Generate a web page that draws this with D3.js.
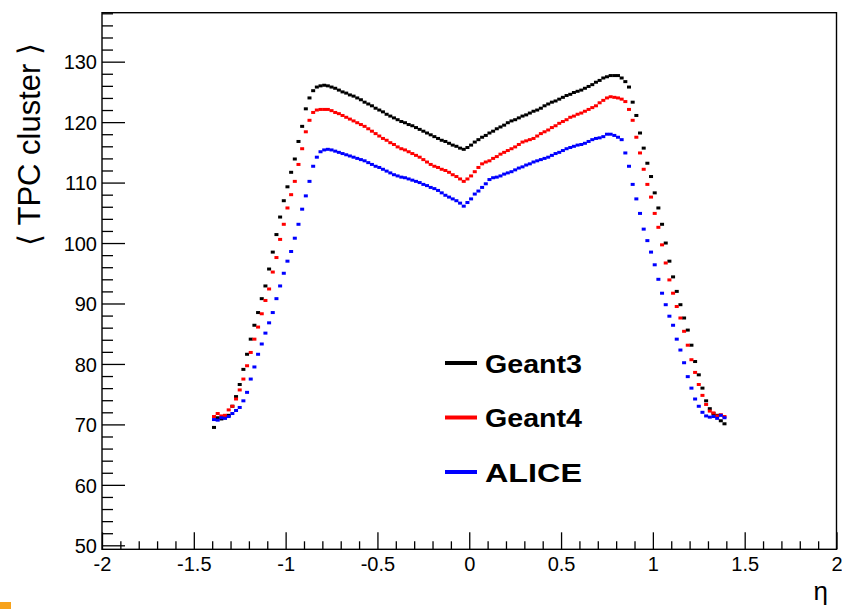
<!DOCTYPE html>
<html>
<head>
<meta charset="utf-8">
<script src="https://cdn.jsdelivr.net/npm/d3@7"></script>
<style>
  body { margin: 0; background: #fff; }
  svg { display: block; font-family: "Liberation Sans", Arial, sans-serif; }
</style>
</head>
<body>
<svg id="chart" width="842" height="609"></svg>
<script>
// histogram binning: 140 bins in eta from -1.4 to 1.4
const nBins = 140;
const etaLow = -1.4;
const etaHigh = 1.4;

// <TPC cluster> per eta bin
const geant3 = [
  69.5, 71.1, 70.9, 71.1, 71.5, 73.0, 74.6, 76.6, 79.1, 81.6,
  84.1, 86.4, 88.5, 90.8, 92.9, 95.7, 98.5, 101.4, 104.3, 107.0,
  109.3, 111.7, 113.9, 116.8, 119.3, 122.2, 124.0, 125.2, 125.8, 126.0,
  126.1, 126.0, 125.8, 125.6, 125.3, 125.0, 124.8, 124.5, 124.3, 124.0,
  123.7, 123.3, 123.0, 122.7, 122.3, 122.0, 121.7, 121.3, 121.0, 120.7,
  120.4, 120.1, 119.9, 119.6, 119.4, 119.1, 118.8, 118.5, 118.2, 117.9,
  117.6, 117.3, 117.0, 116.8, 116.5, 116.2, 116.0, 115.7, 115.5, 115.8,
  116.2, 116.7, 117.1, 117.5, 117.8, 118.2, 118.5, 118.9, 119.2, 119.5,
  119.9, 120.2, 120.4, 120.7, 121.0, 121.2, 121.5, 121.8, 122.0, 122.3,
  122.7, 123.0, 123.3, 123.5, 123.8, 124.1, 124.4, 124.6, 124.9, 125.1,
  125.3, 125.6, 125.9, 126.2, 126.6, 126.9, 127.3, 127.5, 127.7, 127.7,
  127.7, 127.3, 126.7, 125.8, 123.3, 121.1, 118.2, 115.7, 113.2, 111.0,
  108.3, 105.8, 103.1, 100.0, 97.0, 94.4, 92.0, 89.8, 87.6, 85.6,
  83.1, 80.4, 78.2, 76.0, 73.9, 72.6, 71.8, 71.5, 70.6, 70.1
];
const geant4 = [
  71.3, 71.8, 71.4, 71.5, 72.4, 73.0, 74.2, 75.7, 77.5, 79.7,
  81.9, 84.1, 86.1, 88.3, 90.5, 92.4, 95.2, 97.6, 100.6, 103.1,
  105.8, 108.0, 110.2, 113.0, 115.6, 118.4, 120.3, 121.6, 122.0, 122.1,
  122.1, 122.1, 121.9, 121.6, 121.4, 121.1, 120.8, 120.5, 120.2, 119.9,
  119.6, 119.3, 118.9, 118.5, 118.1, 117.7, 117.3, 117.0, 116.6, 116.3,
  115.9, 115.6, 115.4, 115.1, 114.8, 114.5, 114.2, 113.8, 113.4, 113.0,
  112.7, 112.5, 112.2, 112.0, 111.7, 111.3, 111.0, 110.6, 110.2, 110.6,
  111.1, 111.8, 112.5, 113.1, 113.4, 113.6, 114.0, 114.3, 114.7, 115.0,
  115.3, 115.6, 115.9, 116.3, 116.7, 116.9, 117.1, 117.3, 117.7, 118.1,
  118.4, 118.7, 119.1, 119.4, 119.8, 120.1, 120.4, 120.8, 121.0, 121.3,
  121.5, 121.8, 122.1, 122.4, 122.7, 123.2, 123.6, 124.0, 124.2, 124.1,
  124.0, 123.8, 123.4, 122.1, 120.3, 117.5, 114.9, 112.2, 109.7, 107.6,
  104.9, 102.6, 99.7, 96.7, 93.9, 91.7, 89.5, 87.6, 85.4, 83.1,
  80.7, 78.6, 76.6, 74.8, 73.3, 72.2, 71.9, 71.4, 71.6, 71.3
];
const alice = [
  70.8, 70.7, 71.1, 71.0, 71.3, 71.8, 72.3, 72.8, 73.9, 75.3,
  77.5, 79.5, 81.6, 83.3, 85.1, 86.8, 88.5, 90.8, 92.9, 95.0,
  97.0, 98.6, 100.8, 103.1, 105.6, 107.8, 110.2, 112.7, 114.2, 115.1,
  115.4, 115.5, 115.4, 115.2, 115.0, 114.8, 114.6, 114.4, 114.2, 114.0,
  113.8, 113.6, 113.3, 113.0, 112.7, 112.5, 112.2, 111.9, 111.6, 111.3,
  111.1, 110.9, 110.8, 110.6, 110.4, 110.2, 110.0, 109.7, 109.5, 109.2,
  109.0, 108.7, 108.3, 107.9, 107.6, 107.3, 107.0, 106.6, 106.1, 106.7,
  107.3, 108.1, 108.6, 109.2, 109.8, 110.5, 110.8, 110.9, 111.1, 111.4,
  111.6, 111.8, 112.1, 112.4, 112.6, 112.9, 113.1, 113.4, 113.6, 113.8,
  114.0, 114.2, 114.5, 114.8, 115.0, 115.3, 115.6, 115.8, 116.0, 116.2,
  116.3, 116.5, 116.8, 117.1, 117.3, 117.4, 117.6, 118.0, 118.0, 117.8,
  117.5, 117.1, 114.9, 112.7, 109.7, 107.3, 104.9, 102.3, 100.4, 98.5,
  96.4, 94.0, 91.7, 89.8, 87.9, 86.4, 84.1, 82.3, 80.2, 77.9,
  76.0, 74.2, 73.0, 72.0, 71.4, 71.2, 71.3, 71.0, 71.5, 71.1
];

const seriesNames = ["Geant3", "Geant4", "ALICE"];
const seriesColors = ["#000000", "#ff0000", "#0000ff"];

const xTicks = [-2, -1.5, -1, -0.5, 0, 0.5, 1, 1.5, 2];
const xTickLabels = ["-2", "-1.5", "-1", "-0.5", "0", "0.5", "1", "1.5", "2"];
const yTicks = [50, 60, 70, 80, 90, 100, 110, 120, 130];
const yTickLabels = ["50", "60", "70", "80", "90", "100", "110", "120", "130"];
const yRange = [49.34, 138.1];

const svg = d3.select('#chart');
const W = 842, H = 609;
const frame = { left: 102, right: 836.5, top: 12.7, bottom: 549.3 };

const x = d3.scaleLinear().domain([-2, 2]).range([frame.left, frame.right]);
const y = d3.scaleLinear().domain(yRange).range([frame.bottom, frame.top]);

svg.append('rect').attr('width', W).attr('height', H).attr('fill', '#fff');

// bin centers
const binWidth = (etaHigh - etaLow) / nBins;
const centers = d3.range(nBins).map(i => etaLow + (i + 0.5) * binWidth);

// x axis: major + minor ticks pointing inward
const xMinor = d3.range(-20, 21).map(i => i / 10).filter(v => !xTicks.some(t => Math.abs(t - v) < 1e-9));
svg.append('g')
  .attr('transform', `translate(0,${frame.bottom})`)
  .call(d3.axisBottom(x).tickValues(xMinor).tickSizeInner(-8).tickSizeOuter(0).tickFormat(''))
  .call(g => g.select('.domain').remove());
svg.append('g')
  .attr('class', 'xaxis')
  .attr('transform', `translate(0,${frame.bottom})`)
  .call(d3.axisBottom(x).tickValues(xTicks).tickSizeInner(-17).tickSizeOuter(0).tickPadding(8)
    .tickFormat((d, i) => xTickLabels[i]))
  .call(g => g.select('.domain').remove());

// y axis
const yMinor = d3.range(52, 139, 2).filter(v => v % 10 !== 0);
svg.append('g')
  .attr('transform', `translate(${frame.left},0)`)
  .call(d3.axisLeft(y).tickValues(yMinor).tickSizeInner(-11).tickSizeOuter(0).tickFormat(''))
  .call(g => g.select('.domain').remove());
svg.append('g')
  .attr('class', 'yaxis')
  .attr('transform', `translate(${frame.left},0)`)
  .call(d3.axisLeft(y).tickValues(yTicks).tickSizeInner(-23).tickSizeOuter(0).tickPadding(5)
    .tickFormat((d, i) => yTickLabels[i]))
  .call(g => g.select('.domain').remove());

svg.selectAll('.tick line').attr('stroke', '#000').attr('stroke-width', 1.3);
svg.selectAll('.tick text').attr('font-size', 20).attr('fill', '#000')
  .attr('font-family', '"Liberation Sans", Arial, sans-serif');
svg.selectAll('.yaxis .tick text').attr('dy', '0.36em');

// frame
svg.append('rect')
  .attr('x', frame.left).attr('y', frame.top)
  .attr('width', frame.right - frame.left).attr('height', frame.bottom - frame.top)
  .attr('fill', 'none').attr('stroke', '#000').attr('stroke-width', 1.4);

// markers
[geant3, geant4, alice].forEach((vals, s) => {
  svg.append('g').selectAll('rect')
    .data(vals)
    .join('rect')
    .attr('x', (d, i) => x(centers[i]) - 2)
    .attr('y', d => y(d) - 1.5)
    .attr('width', 4)
    .attr('height', 3)
    .attr('fill', seriesColors[s]);
});

// axis titles
svg.append('text')
  .attr('transform', 'translate(40,43) rotate(-90)')
  .attr('text-anchor', 'end')
  .attr('font-size', 31)
  .attr('fill', '#000')
  .text('\u27E8 TPC cluster \u27E9');

svg.append('text')
  .attr('x', 828).attr('y', 600)
  .attr('text-anchor', 'end')
  .attr('font-size', 26)
  .attr('fill', '#000')
  .text('\u03B7');

// legend
const legendY = d3.scalePoint().domain(seriesNames).range([363, 472]);
const legend = svg.append('g');
seriesNames.forEach((name, i) => {
  const ly = legendY(name);
  legend.append('line')
    .attr('x1', 445).attr('x2', 477).attr('y1', ly).attr('y2', ly)
    .attr('stroke', seriesColors[i]).attr('stroke-width', 4);
  legend.append('text')
    .attr('x', 485).attr('y', ly + 9.5)
    .attr('font-size', 26).attr('font-weight', 'bold')
    .attr('textLength', 97).attr('lengthAdjust', 'spacingAndGlyphs')
    .attr('fill', '#000')
    .text(name);
});

// small orange corner mark
svg.append('rect').attr('x', 0).attr('y', 602).attr('width', 11).attr('height', 7).attr('fill', '#f7a21b');
</script>
</body>
</html>
